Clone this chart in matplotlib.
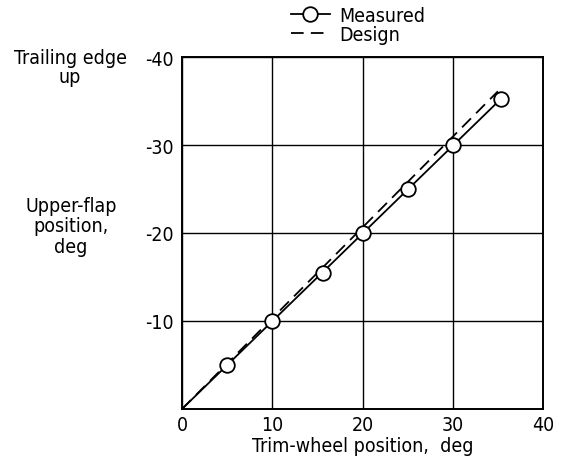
import matplotlib
matplotlib.use("Agg")
import matplotlib.pyplot as plt
from matplotlib.lines import Line2D

# Data
meas_x = [5, 10, 15.6, 20, 25, 30, 35.3]
meas_y = [-5, -10, -15.4, -20, -25, -30, -35.2]
meas_line_x = [0, 35.3]
meas_line_y = [0, -35.2]
design_x = [0, 35]
design_y = [0, -36.1]
xticks = [0, 10, 20, 30, 40]
yticks = [-10, -20, -30, -40]

plt.rcParams['font.family'] = ['DejaVu Sans']
plt.rcParams['font.stretch'] = 'condensed'
plt.rcParams['font.size'] = 13

fig = plt.figure(figsize=(5.61, 4.64), dpi=100)
ax = fig.add_axes([182/561, 1-410/464, (543-182)/561, (410-58)/464])

ax.plot(meas_line_x, meas_line_y, color='black', lw=1.3, zorder=3)
ax.plot(meas_x, meas_y, ls='none', marker='o', ms=10.5, mfc='white', mec='black', mew=1.3, zorder=4)
ax.plot(design_x, design_y, color='black', lw=1.3, ls=(0, (7, 4)), zorder=3)

ax.set_xlim(0, 40)
ax.set_ylim(0, -40)
ax.set_xticks(xticks)
ax.set_yticks(yticks)
ax.set_xticklabels([str(v) for v in xticks])
ax.set_yticklabels([str(v) for v in yticks])
ax.tick_params(axis='x', length=0, pad=4, labelsize=14)
ax.tick_params(axis='y', length=0, pad=6, labelsize=14)
ax.grid(True, color='black', lw=1.0)
for s in ax.spines.values():
    s.set_linewidth(1.4)

ax.set_xlabel('Trim-wheel position,  deg', fontsize=14, labelpad=2)

fig.text(70/561, 1-68/464, 'Trailing edge\nup', ha='center', va='center', fontsize=14, linespacing=1.05)
fig.text(71/561, 1-227/464, 'Upper-flap\nposition,\ndeg', ha='center', va='center', fontsize=14, linespacing=1.1)

# legend
h1 = Line2D([], [], color='black', lw=1.3, marker='o', ms=10.5, mfc='white', mec='black', mew=1.3, markevery=[0])
h2 = Line2D([], [], color='black', lw=1.3, ls=(0, (7, 4)))
leg = fig.legend([h1, h2], ['Measured', 'Design'], loc='center left',
                 bbox_to_anchor=(281/561, 1-26/464), frameon=False, fontsize=14,
                 handlelength=2.0, handletextpad=0.5, labelspacing=0.0, borderpad=0)

fig.savefig('out.png', dpi=100)
